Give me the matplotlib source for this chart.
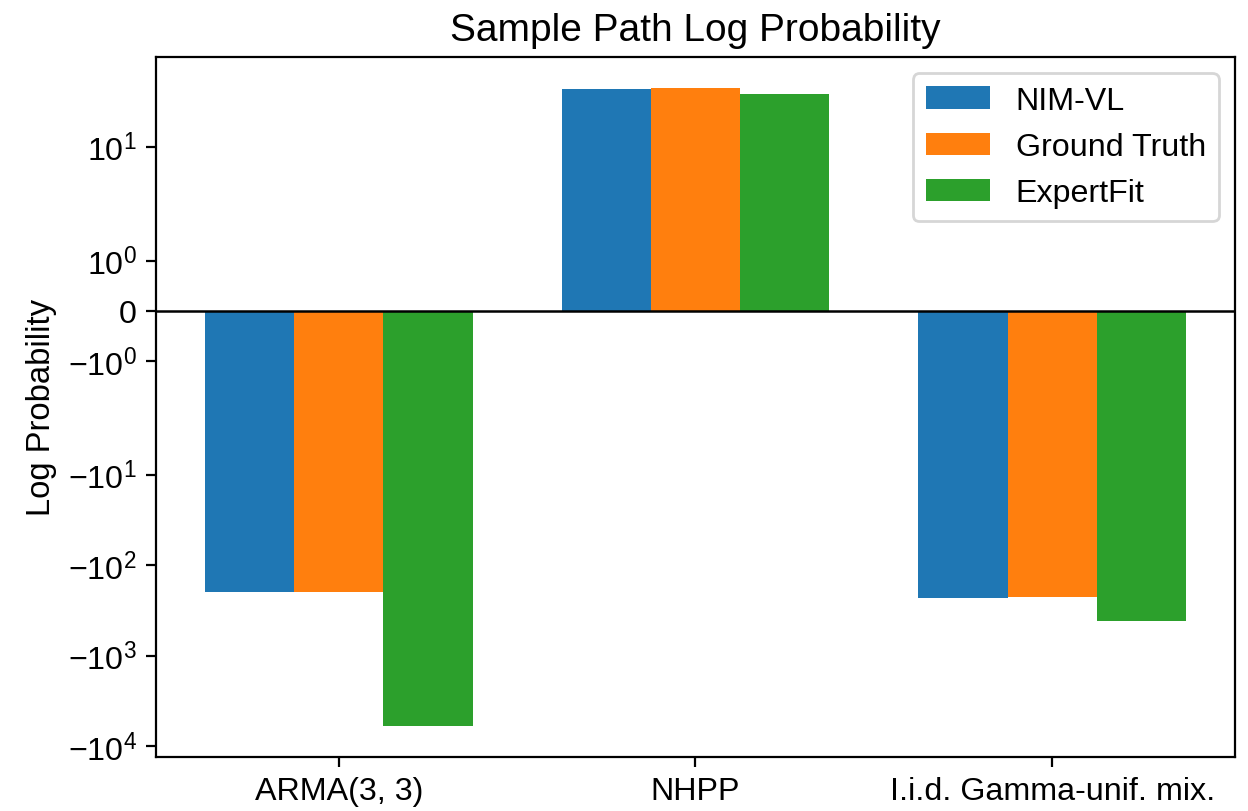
import numpy as np
import matplotlib
matplotlib.use("Agg")
import matplotlib.pyplot as plt

plt.rcParams['font.family'] = ['Liberation Sans', 'DejaVu Sans']
plt.rcParams['mathtext.fontset'] = 'custom'
plt.rcParams['mathtext.rm'] = 'Liberation Sans'
plt.rcParams['mathtext.it'] = 'Liberation Sans:italic'
plt.rcParams['mathtext.default'] = 'regular'

categories = ['ARMA(3, 3)', 'NHPP', 'I.i.d. Gamma-unif. mix.']
series_names = ['NIM-VL', 'Ground Truth', 'ExpertFit']
nim_vl = [-197, 43.5, -232]
ground_truth = [-199, 45.1, -226]
expertfit = [-5970, 38.7, -409]

fig = plt.figure(figsize=(6.24, 4.06), dpi=200)
ax = fig.add_axes([156 / 1248, 1 - 758 / 812, (1235 - 156) / 1248, (758 - 58) / 812])

x = np.arange(len(categories))
w = 0.25
for i, (name, vals) in enumerate(zip(series_names, [nim_vl, ground_truth, expertfit])):
    ax.bar(x + (i - 1) * w, vals, w, label=name)

ax.axhline(0, color='k', lw=0.9)
ax.set_yscale('symlog')
ax.set_ylim(-13100, 99)
ax.set_xticks(x)
ax.set_xticklabels(categories, fontsize=11.6)
ax.tick_params(axis='y', labelsize=11.6)
ax.set_ylabel('Log Probability', fontsize=11.8)
ax.set_title('Sample Path Log Probability', fontsize=14)
ax.legend(loc='upper right', fontsize=11.6, labelspacing=0.5)

fig.savefig('out.png', dpi=200)
